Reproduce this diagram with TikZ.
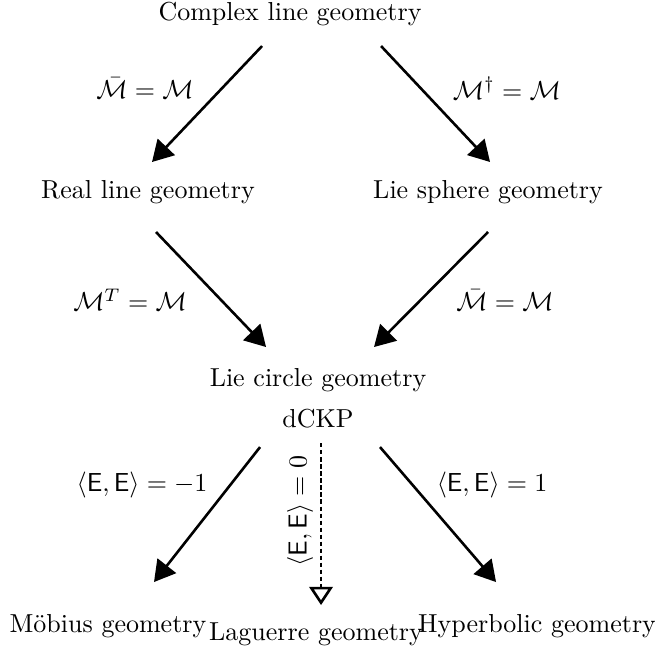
\documentclass[tikz,border=0pt]{standalone}
\usepackage{amsmath}
\usetikzlibrary{arrows.meta}

\begin{document}
\begin{tikzpicture}[
    geo/.style={inner sep=2pt},
    cond/.style={inner sep=1pt},
    implies/.style={line width=1pt, -{Triangle[length=8pt,width=9pt]}},
    limit/.style={line width=1pt, dash pattern=on 1.6pt off 1.1pt,
        -{Triangle[open,length=7pt,width=9pt,line width=1pt]}}
]
\useasboundingbox (0,0) rectangle (8.851,-8.838);

% geometries
\node[geo] (complex) at (3.919,-0.189) {Complex line geometry};
\node[geo] (real)    at (2.000,-2.595) {Real line geometry};
\node[geo] (sphere)  at (6.595,-2.595) {Lie sphere geometry};
\node[geo] (circle)  at (4.297,-5.135) {Lie circle geometry};
\node[geo] (dckp)    at (4.297,-5.662) {dCKP};
\node[geo] (moebius) at (1.459,-8.459) {M\"obius geometry};
\node[geo] (laguerre) at (4.270,-8.568) {Laguerre geometry};
\node[geo] (hyper)   at (7.257,-8.459) {Hyperbolic geometry};

% arrow ends
\coordinate (complex-l) at (3.541,-0.622);
\coordinate (complex-r) at (5.149,-0.622);
\coordinate (real-in)   at (2.054,-2.189);
\coordinate (sphere-in) at (6.622,-2.189);
\coordinate (real-out)  at (2.108,-3.135);
\coordinate (sphere-out) at (6.595,-3.135);
\coordinate (circle-l)  at (3.595,-4.689);
\coordinate (circle-r)  at (5.054,-4.689);
\coordinate (dckp-l)    at (3.514,-6.041);
\coordinate (dckp-m)    at (4.338,-5.990);
\coordinate (dckp-r)    at (5.135,-6.041);
\coordinate (moebius-in) at (2.081,-7.865);
\coordinate (laguerre-in) at (4.338,-8.176);
\coordinate (hyper-in)  at (6.703,-7.865);

\draw[implies] (complex-l) -- (real-in);
\draw[implies] (complex-r) -- (sphere-in);
\draw[implies] (real-out) -- (circle-l);
\draw[implies] (sphere-out) -- (circle-r);
\draw[implies] (dckp-l) -- (moebius-in);
\draw[limit]   (dckp-m) -- (laguerre-in);
\draw[implies] (dckp-r) -- (hyper-in);

% conditions
\node[cond] (c1) at (1.960,-1.190) {$\bar{\mathcal{M}}=\mathcal{M}$};
\node[cond] (c2) at (6.850,-1.190) {$\mathcal{M}^\dagger=\mathcal{M}$};
\node[cond] (c3) at (1.757,-4.054) {$\mathcal{M}^T=\mathcal{M}$};
\node[cond] (c4) at (6.824,-4.054) {$\bar{\mathcal{M}}=\mathcal{M}$};
\node[cond] (c5) at (1.920,-6.560) {$\langle\mathsf{E},\mathsf{E}\rangle=-1$};
\node[cond, rotate=90] (c6) at (4.054,-6.905) {$\langle\mathsf{E},\mathsf{E}\rangle=0$};
\node[cond] (c7) at (6.649,-6.560) {$\langle\mathsf{E},\mathsf{E}\rangle=1$};
\end{tikzpicture}
\end{document}
